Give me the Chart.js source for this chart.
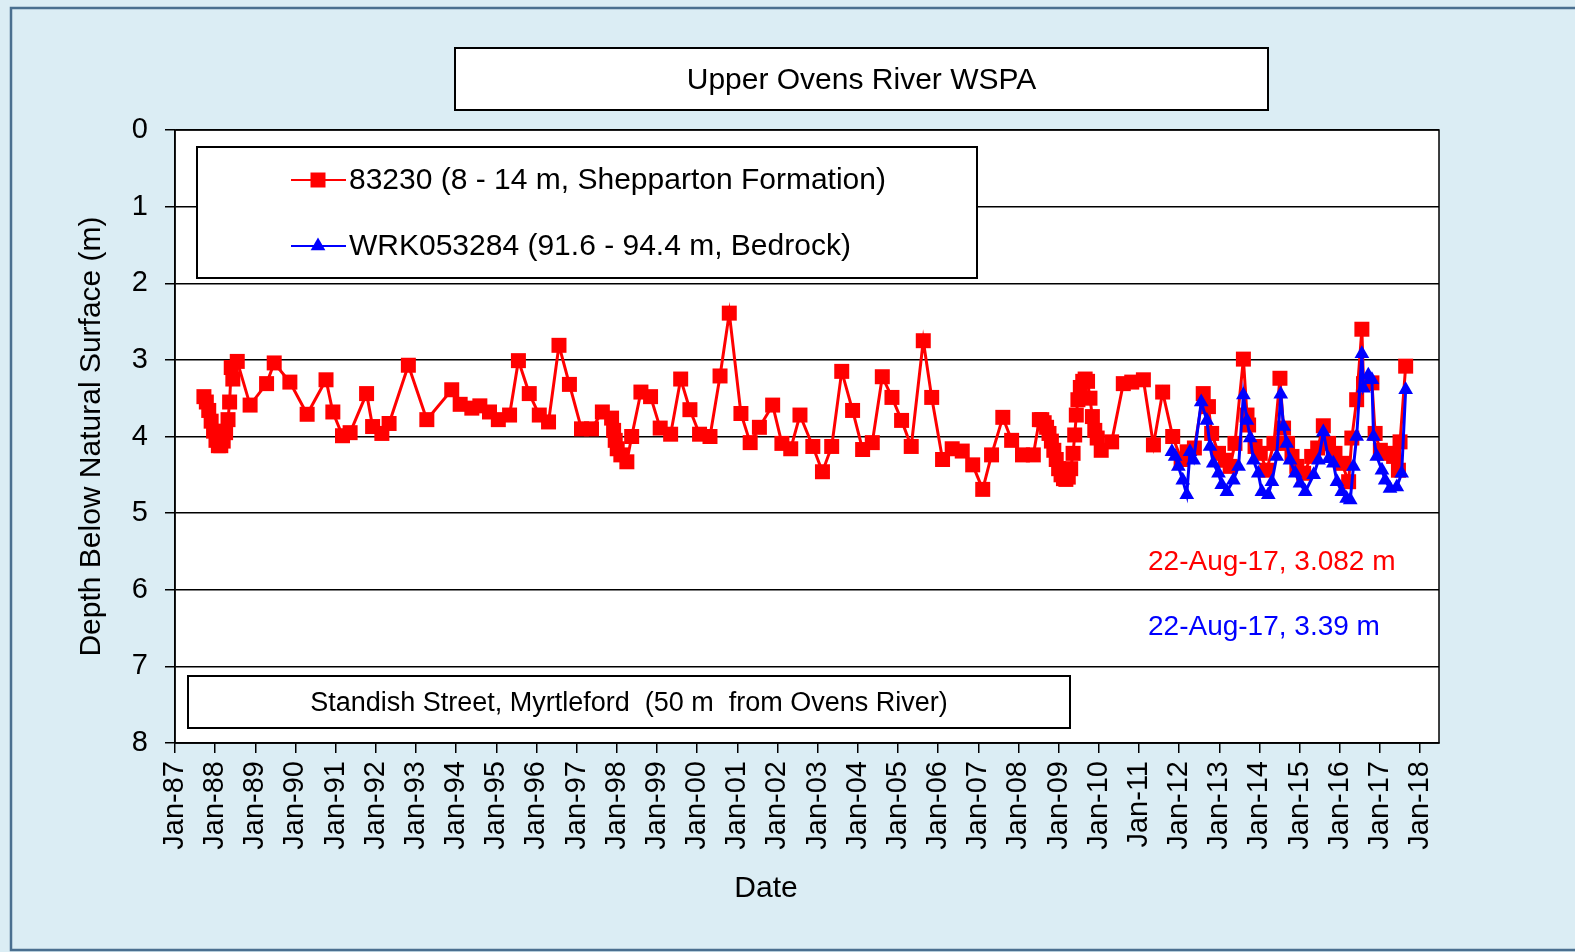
<!DOCTYPE html>
<html lang="en">
<head>
  <meta charset="UTF-8">
  <title>Upper Ovens River WSPA</title>
  <script src="https://cdn.jsdelivr.net/npm/chart.js"></script>
  <style>
    html, body { margin: 0; padding: 0; background: #dbedf4; }
  </style>
</head>
<body>
  <canvas id="levelChart" width="1575" height="952"></canvas>

  <script>
    // Bore 83230 (Shepparton Formation) - decimal year / depth below surface (m)
    const redYears = [
      1987.72, 1987.78, 1987.84, 1987.90, 1987.96, 1988.02, 1988.08, 1988.14, 1988.20, 1988.26,
      1988.32, 1988.36, 1988.40, 1988.44, 1988.55, 1988.87, 1989.28, 1989.47, 1989.86, 1990.29,
      1990.76, 1990.93, 1991.17, 1991.36, 1991.77, 1991.92, 1992.15, 1992.33, 1992.81, 1993.27,
      1993.89, 1994.10, 1994.39, 1994.59, 1994.83, 1995.05, 1995.33, 1995.55, 1995.82, 1996.07,
      1996.30, 1996.56, 1996.82, 1997.12, 1997.37, 1997.64, 1997.87, 1997.92, 1997.96, 1998.01,
      1998.10, 1998.25, 1998.37, 1998.60, 1998.84, 1999.08, 1999.34, 1999.59, 1999.82, 2000.06,
      2000.32, 2000.57, 2000.80, 2001.09, 2001.32, 2001.55, 2001.88, 2002.11, 2002.33, 2002.56,
      2002.88, 2003.12, 2003.35, 2003.60, 2003.87, 2004.12, 2004.36, 2004.61, 2004.85, 2005.09,
      2005.33, 2005.63, 2005.84, 2006.11, 2006.35, 2006.60, 2006.86, 2007.11, 2007.33, 2007.61,
      2007.83, 2008.10, 2008.37, 2008.52, 2008.58, 2008.64, 2008.70, 2008.76, 2008.82, 2008.88,
      2008.94, 2009.00, 2009.06, 2009.12, 2009.18, 2009.24, 2009.30, 2009.36, 2009.40, 2009.44,
      2009.48, 2009.54, 2009.60, 2009.66, 2009.72, 2009.78, 2009.84, 2009.90, 2009.96, 2010.06,
      2010.32, 2010.61, 2010.82, 2011.11, 2011.36, 2011.59, 2011.84, 2012.05, 2012.20, 2012.38,
      2012.60, 2012.73, 2012.81, 2012.98, 2013.15, 2013.27, 2013.39, 2013.60, 2013.69, 2013.73,
      2013.89, 2014.02, 2014.18, 2014.36, 2014.51, 2014.60, 2014.70, 2014.81, 2014.93, 2015.10,
      2015.30, 2015.45, 2015.59, 2015.72, 2015.88, 2016.05, 2016.22, 2016.30, 2016.42, 2016.55,
      2016.59, 2016.80, 2016.88, 2017.01, 2017.17, 2017.34, 2017.46, 2017.50, 2017.64
    ];
    const redDepth = [
      3.48, 3.55, 3.66, 3.80, 3.93, 4.05, 4.12, 4.12, 4.06, 3.95,
      3.78, 3.55, 3.10, 3.25, 3.02, 3.59, 3.31, 3.04, 3.29, 3.71,
      3.26, 3.68, 3.99, 3.95, 3.44, 3.87, 3.96, 3.83, 3.07, 3.78,
      3.39, 3.58, 3.63, 3.60, 3.68, 3.78, 3.72, 3.01, 3.44, 3.72,
      3.81, 2.81, 3.32, 3.90, 3.90, 3.68, 3.76, 3.92, 4.05, 4.16,
      4.24, 4.33, 4.00, 3.42, 3.48, 3.89, 3.97, 3.25, 3.65, 3.97,
      4.00, 3.21, 2.39, 3.70, 4.08, 3.88, 3.59, 4.09, 4.16, 3.72,
      4.13, 4.46, 4.13, 3.15, 3.66, 4.17, 4.08, 3.22, 3.49, 3.79,
      4.13, 2.75, 3.49, 4.30, 4.16, 4.19, 4.37, 4.69, 4.24, 3.75,
      4.05, 4.24, 4.24, 3.78, 3.78, 3.82, 3.88, 3.96, 4.06, 4.18,
      4.30, 4.42, 4.50, 4.55, 4.56, 4.53, 4.42, 4.22, 3.98, 3.72,
      3.52, 3.36, 3.28, 3.25, 3.28, 3.50, 3.74, 3.92, 4.02, 4.18,
      4.07, 3.31, 3.29, 3.26, 4.11, 3.42, 4.00, 4.30, 4.20, 4.15,
      3.44, 3.61, 3.96, 4.22, 4.31, 4.39, 4.09, 2.99, 3.72, 3.85,
      4.13, 4.22, 4.44, 4.09, 3.24, 3.89, 4.09, 4.26, 4.39, 4.48,
      4.26, 4.15, 3.86, 4.09, 4.22, 4.35, 4.59, 4.02, 3.52, 2.60,
      3.31, 3.30, 3.96, 4.18, 4.22, 4.26, 4.44, 4.07, 3.082
    ];

    // Bore WRK053284 (Bedrock)
    const blueYears = [
      2011.82, 2011.90, 2011.98, 2012.09, 2012.19, 2012.27, 2012.36, 2012.55, 2012.69, 2012.77,
      2012.85, 2012.98, 2013.06, 2013.19, 2013.35, 2013.48, 2013.60, 2013.69, 2013.77, 2013.85,
      2013.97, 2014.06, 2014.22, 2014.31, 2014.43, 2014.53, 2014.60, 2014.68, 2014.76, 2014.89,
      2015.01, 2015.14, 2015.35, 2015.47, 2015.59, 2015.72, 2015.84, 2015.93, 2016.05, 2016.17,
      2016.26, 2016.34, 2016.42, 2016.55, 2016.59, 2016.71, 2016.80, 2016.84, 2016.92, 2017.05,
      2017.13, 2017.25, 2017.42, 2017.54, 2017.64
    ];
    const blueDepth = [
      4.20, 4.26, 4.39, 4.57, 4.76, 4.20, 4.31, 3.55, 3.79, 4.13,
      4.35, 4.48, 4.63, 4.72, 4.57, 4.39, 3.46, 3.79, 4.02, 4.31,
      4.48, 4.72, 4.76, 4.59, 4.26, 3.45, 3.87, 4.09, 4.31, 4.48,
      4.61, 4.72, 4.50, 4.31, 3.94, 4.29, 4.35, 4.59, 4.72, 4.81,
      4.83, 4.39, 4.00, 2.92, 3.37, 3.20, 3.26, 4.00, 4.26, 4.44,
      4.57, 4.68, 4.66, 4.48, 3.39
    ];

    const yearTicks = { first: 1987, last: 2018, axisMax: 2018.47 };
    const depthTicks = { min: 0, max: 8, step: 1 };

    const chartTitle = 'Upper Ovens River WSPA';
    const siteLabel = 'Standish Street, Myrtleford  (50 m  from Ovens River)';
    const lastReading = '22-Aug-17';
    const seriesLabels = ['83230 (8 - 14 m, Shepparton Formation)', 'WRK053284 (91.6 - 94.4 m, Bedrock)'];

    const FONT = "'Liberation Sans', Arial, sans-serif";

    const toPoints = (xs, ys) => xs.map((x, i) => ({ x: x, y: ys[i] }));

    function drawMarker(ctx, style, x, y, r, color) {
      ctx.fillStyle = color;
      ctx.beginPath();
      if (style === 'rect') {
        const s = Math.SQRT1_2 * r;
        ctx.rect(x - s, y - s, 2 * s, 2 * s);
      } else {
        ctx.moveTo(x, y - r);
        ctx.lineTo(x + r * Math.sin(2 * Math.PI / 3), y + r / 2);
        ctx.lineTo(x - r * Math.sin(2 * Math.PI / 3), y + r / 2);
        ctx.closePath();
      }
      ctx.fill();
    }

    function textBox(ctx, x, y, w, h, text, size) {
      ctx.fillStyle = '#fff';
      ctx.fillRect(x, y, w, h);
      ctx.strokeStyle = '#000';
      ctx.lineWidth = 2;
      ctx.strokeRect(x, y, w, h);
      if (text) {
        ctx.fillStyle = '#000';
        ctx.font = size + 'px ' + FONT;
        ctx.textAlign = 'center';
        ctx.textBaseline = 'middle';
        ctx.fillText(text, x + w / 2, y + h / 2 + 2);
      }
    }

    const decorations = {
      id: 'decorations',
      beforeDraw(chart) {
        const ctx = chart.ctx, a = chart.chartArea;
        ctx.save();
        ctx.fillStyle = '#dbedf4';
        ctx.fillRect(0, 0, chart.width, chart.height);
        ctx.strokeStyle = '#4a6f8f';
        ctx.lineWidth = 2.5;
        ctx.strokeRect(11, 8, chart.width + 20, chart.height - 10);
        ctx.fillStyle = '#fff';
        ctx.fillRect(a.left, a.top, a.right - a.left, a.bottom - a.top);
        ctx.restore();
      },
      afterDraw(chart) {
        const ctx = chart.ctx, a = chart.chartArea;
        ctx.save();
        ctx.strokeStyle = '#000';
        ctx.lineWidth = 1.5;
        ctx.strokeRect(a.left, a.top, a.right - a.left, a.bottom - a.top);

        textBox(ctx, 455, 48, 813, 62, chartTitle, 30);
        textBox(ctx, 188, 676, 882, 52, siteLabel, 27);

        // legend
        textBox(ctx, 197, 147, 780, 131, '', 0);
        const rows = [180, 246];
        chart.data.datasets.forEach((ds, i) => {
          const y = rows[i];
          ctx.strokeStyle = ds.borderColor;
          ctx.lineWidth = 2;
          ctx.beginPath();
          ctx.moveTo(291, y);
          ctx.lineTo(346, y);
          ctx.stroke();
          drawMarker(ctx, ds.pointStyle, 318, y, ds.pointRadius, ds.borderColor);
          ctx.fillStyle = '#000';
          ctx.font = '30px ' + FONT;
          ctx.textAlign = 'left';
          ctx.textBaseline = 'middle';
          ctx.fillText(ds.label, 349, y + 1);
        });

        // x axis title (sits left of the plot centre in the original)
        ctx.fillStyle = '#000';
        ctx.font = '30px ' + FONT;
        ctx.textAlign = 'center';
        ctx.textBaseline = 'middle';
        ctx.fillText('Date', 766, 889);

        // latest readings
        ctx.font = '28px ' + FONT;
        ctx.textAlign = 'left';
        ctx.fillStyle = '#ff0000';
        ctx.fillText(lastReading + ', ' + redDepth[redDepth.length - 1] + ' m', 1148, 562);
        ctx.fillStyle = '#0000ff';
        ctx.fillText(lastReading + ', ' + blueDepth[blueDepth.length - 1] + ' m', 1148, 627);
        ctx.restore();
      }
    };

    var ctx = document.getElementById('levelChart').getContext('2d');
    var levelChart = new Chart(ctx, {
      type: 'line',
      data: {
        datasets: [
          {
            label: seriesLabels[0],
            data: toPoints(redYears, redDepth),
            borderColor: '#ff0000',
            backgroundColor: '#ff0000',
            borderWidth: 3,
            pointStyle: 'rect',
            pointRadius: 10.6,
            pointBorderWidth: 0,
            tension: 0,
            order: 1
          },
          {
            label: seriesLabels[1],
            data: toPoints(blueYears, blueDepth),
            borderColor: '#0000ff',
            backgroundColor: '#0000ff',
            borderWidth: 3,
            pointStyle: 'triangle',
            pointRadius: 8.5,
            pointBorderWidth: 0,
            tension: 0,
            order: 0
          }
        ]
      },
      options: {
        responsive: false,
        animation: false,
        events: [],
        layout: { padding: { top: 130, right: 136, left: 20, bottom: 0 } },
        plugins: { legend: { display: false }, tooltip: { enabled: false } },
        scales: {
          x: {
            type: 'linear',
            min: yearTicks.first,
            max: yearTicks.axisMax,
            afterBuildTicks: s => {
              const t = [];
              for (let y = yearTicks.first; y <= yearTicks.last; y++) t.push({ value: y });
              s.ticks = t;
            },
            afterFit: s => { s.height = 209; },
            ticks: {
              autoSkip: false,
              maxRotation: 90,
              minRotation: 90,
              padding: 8,
              color: '#000',
              font: { family: FONT, size: 29 },
              callback: v => 'Jan-' + String(v % 100).padStart(2, '0')
            },
            grid: { drawOnChartArea: false, drawTicks: true, tickLength: 10, color: '#000', lineWidth: 1.5 },
            border: { color: '#000', width: 1.5 }
          },
          y: {
            reverse: true,
            min: depthTicks.min,
            max: depthTicks.max,
            afterFit: s => { s.width = 155; },
            ticks: {
              stepSize: depthTicks.step,
              padding: 17,
              color: '#000',
              font: { family: FONT, size: 29 }
            },
            grid: { color: '#000', lineWidth: 1.5, tickLength: 10 },
            border: { color: '#000', width: 1.5 },
            title: { display: true, text: 'Depth Below Natural Surface (m)', color: '#000', font: { family: FONT, size: 30 }, padding: { top: 54 } }
          }
        }
      },
      plugins: [decorations]
    });
  </script>
</body>
</html>
